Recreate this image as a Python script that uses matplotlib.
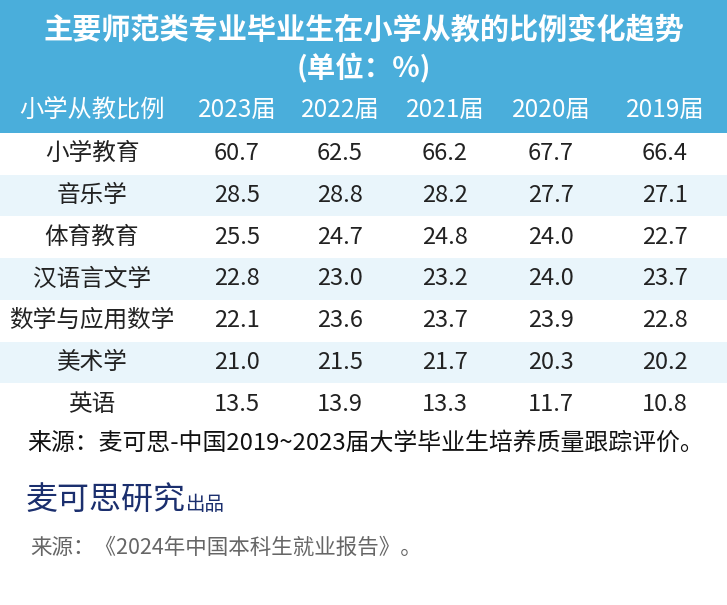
import matplotlib.pyplot as plt
from matplotlib.patches import Rectangle

plt.rcParams['font.family'] = ['Noto Sans CJK SC', 'DejaVu Sans']

title = "主要师范类专业毕业生在小学从教的比例变化趋势"
subtitle = "(单位：%)"
first_col = "小学从教比例"
years = ["2023届", "2022届", "2021届", "2020届", "2019届"]
majors = ["小学教育", "音乐学", "体育教育", "汉语言文学", "数学与应用数学", "美术学", "英语"]
v2023 = [60.7, 28.5, 25.5, 22.8, 22.1, 21.0, 13.5]
v2022 = [62.5, 28.8, 24.7, 23.0, 23.6, 21.5, 13.9]
v2021 = [66.2, 28.2, 24.8, 23.2, 23.7, 21.7, 13.3]
v2020 = [67.7, 27.7, 24.0, 24.0, 23.9, 20.3, 11.7]
v2019 = [66.4, 27.1, 22.7, 23.7, 22.8, 20.2, 10.8]
source1 = "来源：麦可思-中国2019~2023届大学毕业生培养质量跟踪评价。"
brand = "麦可思研究"
brand_tail = "出品"
source2 = "来源：《2024年中国本科生就业报告》。"

W, H = 727, 605
fig = plt.figure(figsize=(W / 100, H / 100), dpi=100)
ax = fig.add_axes([0, 0, 1, 1])
ax.set_xlim(0, W)
ax.set_ylim(H, 0)
ax.axis("off")

blue = "#4aaedb"
stripe = "#e9f5fb"

# header block
ax.add_patch(Rectangle((0, 0), W, 133, color=blue, lw=0))
ax.text(W / 2, 30, title, color="white", fontsize=21, fontweight="bold",
        ha="center", va="center")
ax.text(W / 2, 68, subtitle, color="white", fontsize=20.5, fontweight="bold",
        ha="center", va="center")

col_x = [92, 237, 340, 445, 551, 665]
ax.text(col_x[0], 110, first_col, color="white", fontsize=17.5, ha="center", va="center")
for x, y in zip(col_x[1:], years):
    ax.text(x, 110, y, color="white", fontsize=17.5, ha="center", va="center")

# body rows
row_h = 41.7
top = 133
columns = [v2023, v2022, v2021, v2020, v2019]
for i, m in enumerate(majors):
    y0 = top + i * row_h
    if i % 2 == 1:
        ax.add_patch(Rectangle((0, y0), W, row_h, color=stripe, lw=0))
    yc = y0 + row_h / 2
    ax.text(col_x[0], yc, m, color="#222222", fontsize=17, ha="center", va="center")
    for x, col in zip(col_x[1:], columns):
        ax.text(x, yc, f"{col[i]:.1f}", color="#222222", fontsize=17,
                ha="center", va="center")

# footer
ax.text(27, 443, source1, color="#111111", fontsize=17.2, ha="left", va="center")
t = ax.text(25, 500, brand, color="#1b2f6e", fontsize=23, ha="left", va="center")
fig.canvas.draw()
bb = t.get_window_extent()
ax.text(bb.x1 + 1, 504, brand_tail, color="#1b2f6e", fontsize=14, ha="left", va="center")
ax.text(30, 548, source2, color="#666666", fontsize=15.5, ha="left", va="center")

fig.savefig("out.png", dpi=100, facecolor="white")
